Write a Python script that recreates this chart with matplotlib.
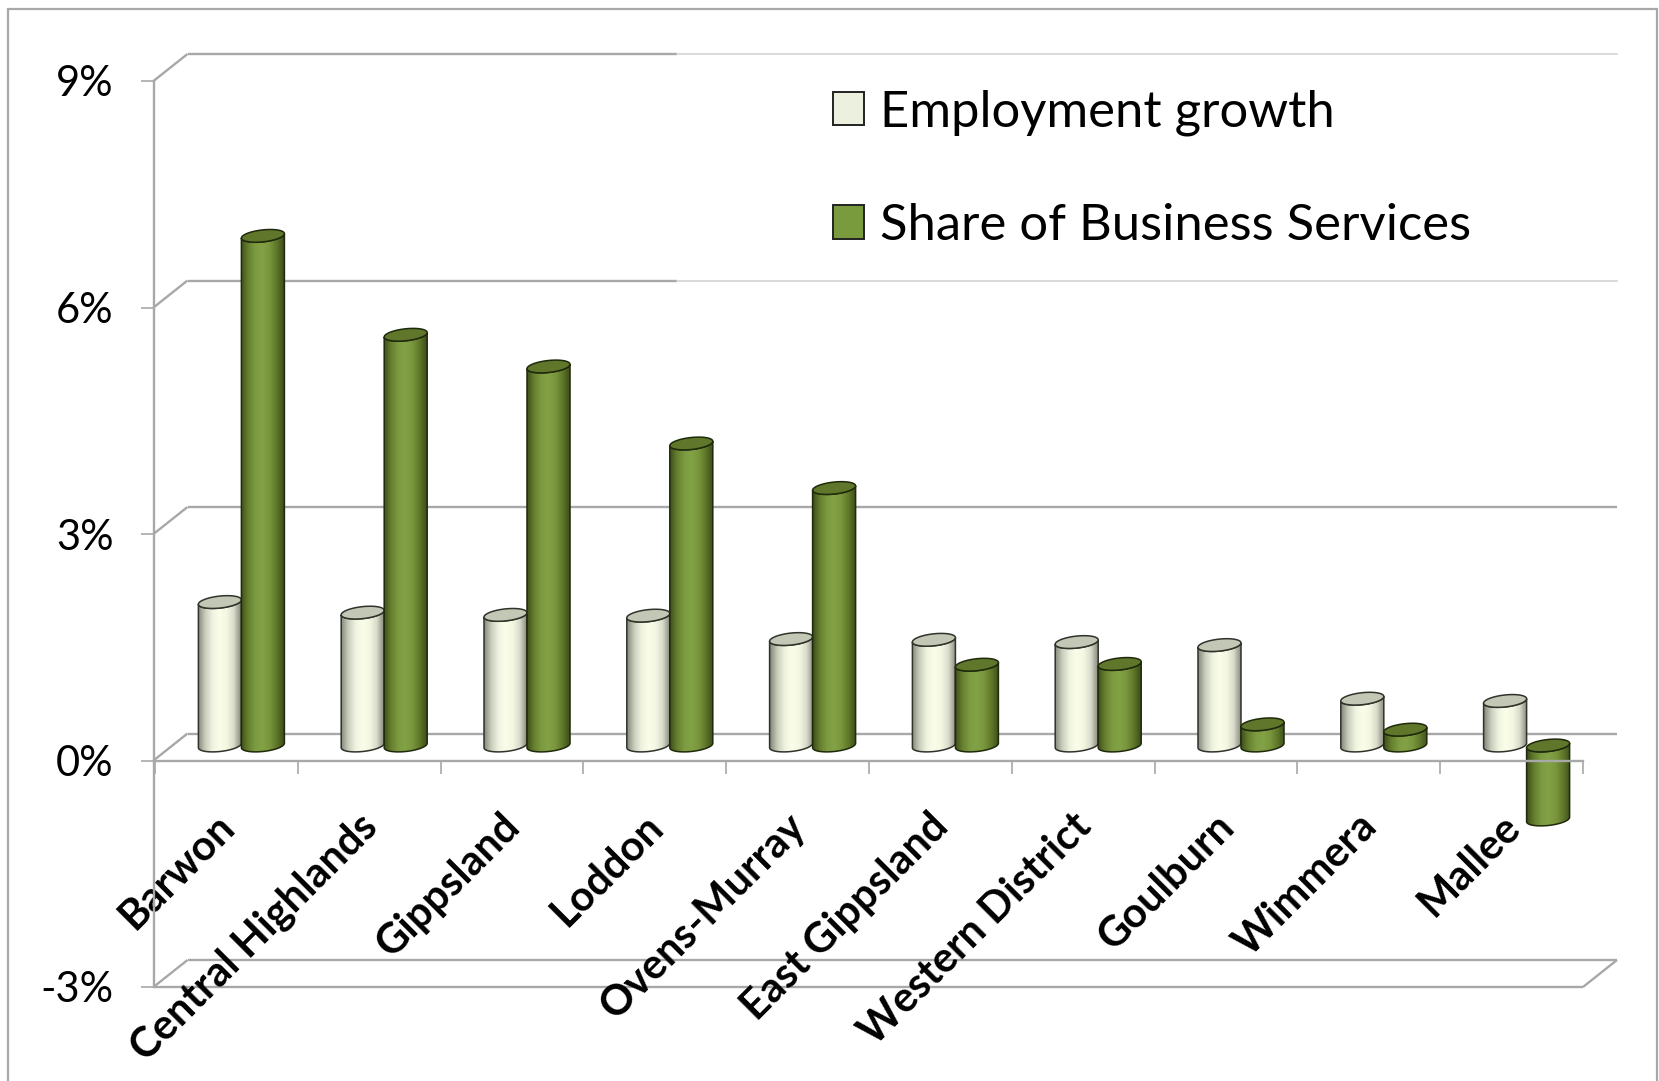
import numpy as np
import matplotlib
matplotlib.use("Agg")
import matplotlib.pyplot as plt
from matplotlib.patches import PathPatch, Patch, Rectangle
from matplotlib.path import Path
from matplotlib.colors import LinearSegmentedColormap

regions = ["Barwon", "Central Highlands", "Gippsland", "Loddon", "Ovens-Murray",
           "East Gippsland", "Western District", "Goulburn", "Wimmera", "Mallee"]
employment_growth = [1.90, 1.76, 1.73, 1.72, 1.41, 1.40, 1.37, 1.33, 0.62, 0.59]
business_share = [6.75, 5.44, 5.02, 4.00, 3.41, 1.07, 1.08, 0.28, 0.21, -0.98]
y_ticks = [-3, 0, 3, 6, 9]
y_labels = ["-3%", "0%", "3%", "6%", "9%"]
series_names = ["Employment growth", "Share of Business Services"]

W, H = 1659, 1081
GREY = "#a8a8a8"
LINE = 1.7
plt.rcParams["font.family"] = ["Lato", "DejaVu Sans"]
fig = plt.figure(figsize=(W / 100, H / 100), dpi=100)
L, R, T, B = 153.5, 1583, 81, 987
ax = fig.add_axes([L / W, 1 - B / H, (R - L) / W, (B - T) / H])
PX_X = 142.8            # pixels per category
PX_Y = (B - T) / 12     # pixels per percentage point
xlim = (-(155 - L) / PX_X, (R - 155) / PX_X)
DEPTH_X = 34 / PX_X
DEPTH_Y = 27 / PX_Y
WID = 43 / PX_X
RX = WID / 2
RY = 6 / PX_Y
TILT = 2.2 / PX_Y
FADE_X = (677 - 155) / PX_X   # back-wall lines become faint to the right of this

# frame
fig.add_artist(Rectangle((8 / W, -0.05), (1657 - 8) / W, 1.05 - 9 / H, transform=fig.transFigure,
                         fill=False, ec=GREY, lw=1.6))

# walls and gridlines
line_kw = dict(color=GREY, lw=LINE, clip_on=False, zorder=1, solid_capstyle="butt")
for v in y_ticks:
    back = v + DEPTH_Y
    ax.plot([xlim[0], xlim[0] + DEPTH_X], [v, back], **line_kw)
    if v >= 6:
        ax.plot([xlim[0] + DEPTH_X, FADE_X], [back, back], **line_kw)
        ax.plot([FADE_X, xlim[1] + DEPTH_X], [back, back], color="#cfcfcf", lw=1.1,
                clip_on=False, zorder=1)
    else:
        ax.plot([xlim[0] + DEPTH_X, xlim[1] + DEPTH_X], [back, back], **line_kw)
ax.plot([xlim[0], xlim[1]], [-3, -3], **line_kw)
ax.plot([xlim[1], xlim[1] + DEPTH_X], [-3, -3 + DEPTH_Y], **line_kw)

light_cm = LinearSegmentedColormap.from_list("l", ["#85887a", "#c9cdbb", "#eef2df", "#fafee9", "#f4f8e3", "#d9dccb", "#8a8d7e"])
green_cm = LinearSegmentedColormap.from_list("g", ["#3f4f1c", "#66802f", "#7d9b41", "#83a145", "#79963d", "#5f7729", "#3d4d1b"])
grad = np.linspace(0, 1, 128).reshape(1, -1)


def tilted(cx, cy, start, stop, n=40):
    t = np.linspace(start, stop, n)
    return cx + RX * np.cos(t), cy + RY * np.sin(t) + TILT * np.cos(t)


def cylinder(cat, side, value, cmap, top_color, edge):
    cx = cat + 0.5 + DEPTH_X / 2 - 2 / PX_X + side * WID / 2
    base = DEPTH_Y / 2 + 1.5 / PX_Y
    top = base + value
    upper, lower = (top, base) if value >= 0 else (base, top)
    fx, fy = tilted(cx, upper, np.pi, 2 * np.pi)     # front half of upper rim
    bx, by = tilted(cx, lower, 2 * np.pi, np.pi)     # front half of lower rim, right to left
    verts = np.vstack([np.column_stack([fx, fy]), np.column_stack([bx, by])])
    outline = Path(np.vstack([verts, verts[:1]]), closed=True)
    z = 3 + cat * 0.01 + side * 0.001
    body = PathPatch(outline, fc="none", ec=edge, lw=1.1, zorder=z)
    im = ax.imshow(grad, cmap=cmap, aspect="auto", extent=(cx - RX, cx + RX, lower - 2 * RY, upper + 2 * RY),
                   zorder=z - 0.0001, interpolation="bilinear")
    ax.add_patch(body)
    im.set_clip_path(outline, ax.transData)
    tx, ty = tilted(cx, upper, 0, 2 * np.pi, 80)
    ax.fill(tx, ty, fc=top_color, ec=edge, lw=1.1, zorder=z + 0.0001, clip_on=False)


for i in range(len(regions)):
    cylinder(i, -1, employment_growth[i], light_cm, "#c3c8b6", "#2f332a")
    cylinder(i, 1, business_share[i], green_cm, "#5f762b", "#1f2a0c")

# axes and ticks
ax.set_xlim(*xlim)
ax.set_ylim(-3, 9)
ax.patch.set_visible(False)
for s in ("top", "right"):
    ax.spines[s].set_visible(False)
ax.spines["bottom"].set_position(("data", 0))
for s in ("left", "bottom"):
    ax.spines[s].set_color(GREY)
    ax.spines[s].set_linewidth(LINE)
    ax.spines[s].set_zorder(5)
ax.set_yticks(y_ticks)
ax.set_yticklabels(y_labels, fontsize=30, color="black")
ax.tick_params(axis="y", length=9.4, width=1.2, color=GREY, pad=19.5)
ax.set_xticks(np.arange(len(regions) + 1))
ax.set_xticklabels([])
ax.set_xticks(np.arange(len(regions)) + 0.5 + 2 / PX_X, minor=True)
ax.set_xticklabels(regions, minor=True, rotation=45, ha="right", va="center", rotation_mode="anchor",
                   fontsize=30, fontweight="bold", color="black")
ax.tick_params(axis="x", which="major", length=9.4, width=1.2, color=GREY)
ax.tick_params(axis="x", which="minor", length=0, pad=43)

# legend
handles = [Patch(fc="#ecf0de", ec="#222222", lw=1.4), Patch(fc="#7a9a3e", ec="#222222", lw=1.4)]
leg = ax.legend(handles, series_names, frameon=False, fontsize=36.5, handlelength=0.61, handleheight=0.63,
                handletextpad=0.32, labelspacing=1.32, borderpad=0, borderaxespad=0,
                loc="upper left", bbox_to_anchor=((833 - L) / (R - L), 1 - (89.5 - T) / (B - T)))
leg.set_zorder(6)

fig.savefig("out.png", dpi=100)
